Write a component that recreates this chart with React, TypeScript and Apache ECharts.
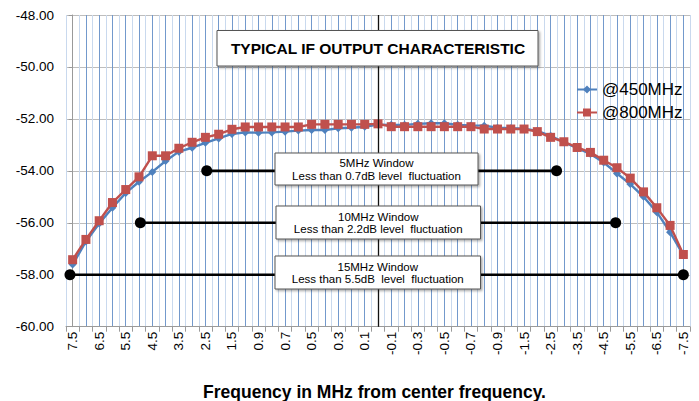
import React, { useEffect, useRef } from 'react';
import * as echarts from 'echarts';

const categories = [
  '7.5', '7', '6.5', '6', '5.5', '5', '4.5', '4', '3.5', '3', '2.5', '2', '1.5', '1.0',
  '0.9', '0.8', '0.7', '0.6', '0.5', '0.4', '0.3', '0.2', '0.1', '0',
  '-0.1', '-0.2', '-0.3', '-0.4', '-0.5', '-0.6', '-0.7', '-0.8', '-0.9', '-1.0',
  '-1.5', '-2', '-2.5', '-3', '-3.5', '-4', '-4.5', '-5', '-5.5', '-6', '-6.5', '-7', '-7.5',
];

const series450 = [
  -57.61, -56.72, -56.03, -55.42, -54.85, -54.42, -54.04, -53.62, -53.26, -53.11, -52.92, -52.75,
  -52.58, -52.52, -52.53, -52.52, -52.49, -52.45, -52.43, -52.43, -52.36, -52.34, -52.30, -52.22,
  -52.23, -52.23, -52.19, -52.17, -52.17, -52.23, -52.25, -52.26, -52.34, -52.36, -52.38, -52.46,
  -52.65, -52.90, -53.13, -53.35, -53.68, -54.10, -54.51, -55.00, -55.59, -56.36, -57.25,
];

const series800 = [
  -57.42, -56.64, -55.92, -55.22, -54.72, -54.23, -53.42, -53.42, -53.13, -52.90, -52.71, -52.59,
  -52.40, -52.31, -52.31, -52.31, -52.31, -52.31, -52.21, -52.21, -52.21, -52.21, -52.21, -52.19,
  -52.30, -52.30, -52.30, -52.30, -52.30, -52.30, -52.30, -52.39, -52.39, -52.39, -52.39, -52.49,
  -52.71, -52.88, -53.10, -53.29, -53.59, -53.88, -54.28, -54.81, -55.42, -56.10, -57.22,
];

// window markers, positions expressed in category-index units
const windowLevels = [-54, -56, -58];
const windowStart = [10.1, 5.1, -0.2];
const windowEnd = [36.45, 40.9, 46.0];
const windowTitles = ['5MHz Window', '10MHz Window', '15MHz Window'];
const windowNotes = [
  'Less than 0.7dB level  fluctuation',
  'Less than 2.2dB level  fluctuation',
  'Less than 5.5dB  level  fluctuation',
];
const centerIndex = 23;

const FONT = '"Liberation Sans", Arial, Helvetica, sans-serif';

const boxLayout = [
  { x: 275, y: 153, w: 203, h: 32 },
  { x: 276, y: 206, w: 204.5, h: 33 },
  { x: 275, y: 256, w: 205.5, h: 33 },
];

export default function App() {
  const ref = useRef<HTMLDivElement>(null);

  useEffect(() => {
    if (!ref.current) return;
    const chart = echarts.init(ref.current, null, { renderer: 'svg' });

    const windowSeries = windowLevels.map((lvl, k) => ({
      type: 'line',
      name: 'win' + k,
      xAxisIndex: 1,
      yAxisIndex: 0,
      data: [
        [windowStart[k], lvl],
        [windowEnd[k], lvl],
      ],
      symbol: 'circle',
      symbolSize: 11,
      showAllSymbol: true,
      lineStyle: { color: '#000', width: 2.6 },
      itemStyle: { color: '#000' },
      z: 1,
      ...(k === 0
        ? {
            markLine: {
              silent: true,
              symbol: 'none',
              label: { show: false },
              lineStyle: { color: '#111', width: 1.3, type: 'solid' },
              data: [{ xAxis: centerIndex }],
            },
          }
        : {}),
    }));

    const graphics: any[] = [
      {
        type: 'rect',
        shape: { x: 217, y: 30.5, width: 321, height: 35.5 },
        style: {
          fill: '#fff',
          stroke: '#555',
          lineWidth: 1,
          shadowBlur: 2,
          shadowOffsetX: 1.5,
          shadowOffsetY: 1.5,
          shadowColor: 'rgba(0,0,0,0.35)',
        },
        z: 10,
      },
      {
        type: 'text',
        x: 378,
        y: 48.5,
        style: {
          text: 'TYPICAL IF OUTPUT CHARACTERISTIC',
          font: `bold 15.5px ${FONT}`,
          fill: '#000',
          align: 'center',
          verticalAlign: 'middle',
        },
        z: 11,
      },
      {
        type: 'text',
        x: 374.5,
        y: 400.5,
        style: {
          text: 'Frequency in MHz from center frequency.',
          font: `bold 17.5px ${FONT}`,
          fill: '#000',
          align: 'center',
          verticalAlign: 'bottom',
        },
        z: 11,
      },
    ];

    boxLayout.forEach((b, k) => {
      graphics.push({
        type: 'rect',
        shape: { x: b.x, y: b.y, width: b.w, height: b.h },
        style: {
          fill: '#fff',
          stroke: '#555',
          lineWidth: 1,
          shadowBlur: 2,
          shadowOffsetX: 1.5,
          shadowOffsetY: 1.5,
          shadowColor: 'rgba(0,0,0,0.35)',
        },
        z: 10,
      });
      graphics.push({
        type: 'text',
        x: b.x + b.w / 2,
        y: b.y + b.h / 2 + 0.5,
        style: {
          text: windowTitles[k] + '\n' + windowNotes[k],
          font: `11.5px ${FONT}`,
          lineHeight: 12.8,
          fill: '#000',
          align: 'center',
          verticalAlign: 'middle',
        },
        z: 11,
      });
    });

    chart.setOption({
      animation: false,
      backgroundColor: '#fff',
      textStyle: { fontFamily: FONT },
      grid: { left: 66, right: 9, top: 15, bottom: 74.3, containLabel: false },
      legend: {
        data: ['@450MHz', '@800MHz'],
        orient: 'vertical',
        left: 571,
        top: 76,
        itemWidth: 20,
        itemHeight: 10,
        itemGap: 6,
        textStyle: { fontSize: 17, color: '#000', fontFamily: FONT },
      },
      xAxis: [
        {
          type: 'category',
          data: categories,
          boundaryGap: true,
          axisLine: { show: true, lineStyle: { color: '#9a9a9a' } },
          axisTick: { show: true, interval: 0, length: 5, lineStyle: { color: '#9a9a9a' } },
          axisLabel: {
            interval: 1,
            rotate: 90,
            fontSize: 13.5,
            color: '#000',
            margin: 5,
            fontFamily: FONT,
          },
          splitLine: { show: false },
        },
        {
          type: 'value',
          min: -0.5,
          max: 46.5,
          interval: 0.5,
          position: 'top',
          axisLine: { show: false },
          axisTick: { show: false },
          axisLabel: { show: false },
          splitLine: {
            show: true,
            lineStyle: { color: ['#c9d9ee', '#7399cc'], width: 1 },
          },
        },
      ],
      yAxis: {
        type: 'value',
        min: -60,
        max: -48,
        interval: 2,
        axisLine: { show: true, lineStyle: { color: '#9a9a9a' } },
        axisTick: { show: true, length: 4, lineStyle: { color: '#9a9a9a' } },
        axisLabel: {
          fontSize: 13.5,
          color: '#000',
          margin: 12,
          fontFamily: FONT,
          formatter: (v: number) => v.toFixed(2),
        },
        splitLine: { show: true, lineStyle: { color: '#bdbdbd', width: 1 } },
      },
      series: [
        ...windowSeries,
        {
          type: 'line',
          name: '@450MHz',
          data: series450,
          symbol: 'diamond',
          symbolSize: 8,
          showAllSymbol: true,
          lineStyle: { color: '#4f81bd', width: 2.4 },
          itemStyle: { color: '#4f81bd' },
          z: 3,
        },
        {
          type: 'line',
          name: '@800MHz',
          data: series800,
          symbol: 'rect',
          symbolSize: 9,
          showAllSymbol: true,
          lineStyle: { color: '#c0504d', width: 2.4 },
          itemStyle: { color: '#c0504d' },
          z: 4,
        },
      ],
      graphic: graphics,
    });

    return () => chart.dispose();
  }, []);

  return (
    <div
      ref={ref}
      style={{ position: 'fixed', left: 0, top: 0, width: 699, height: 401, background: '#fff' }}
    />
  );
}
